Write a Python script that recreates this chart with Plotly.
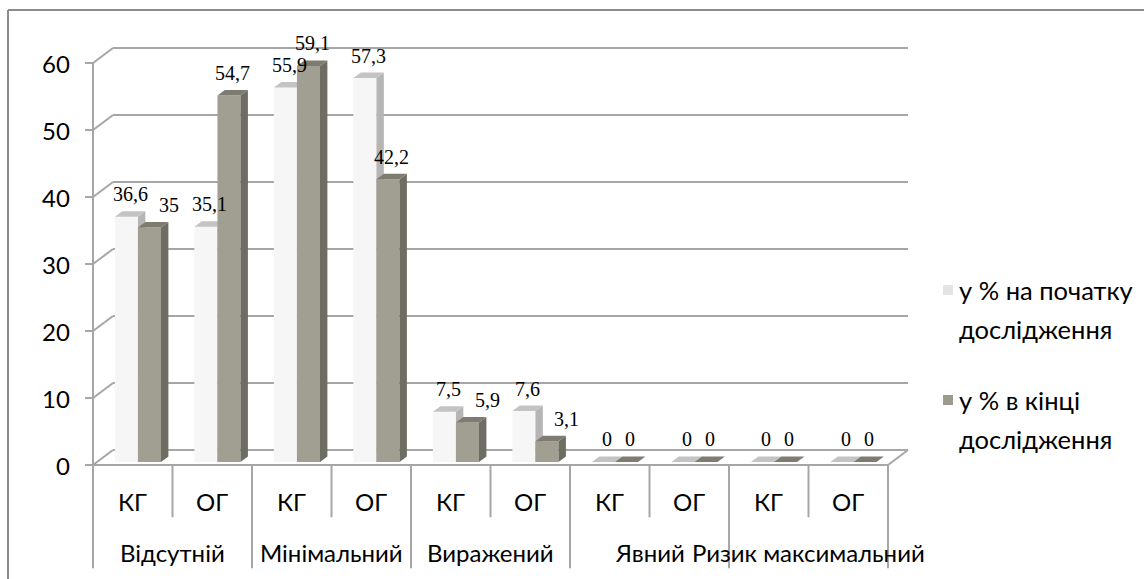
import plotly.graph_objects as go

# ---- data -------------------------------------------------------------
groups = ["Відсутній", "Мінімальний", "Виражений", "Явний", "Ризик максимальний"]
subgroups = ["КГ", "ОГ"]
start_pct = [36.6, 35.1, 55.9, 57.3, 7.5, 7.6, 0, 0, 0, 0]   # у % на початку дослідження
end_pct = [35, 54.7, 59.1, 42.2, 5.9, 3.1, 0, 0, 0, 0]       # у % в кінці дослідження
series_names = [["у % на початку", "дослідження"], ["у % в кінці", "дослідження"]]
y_ticks = [0, 10, 20, 30, 40, 50, 60]

# ---- geometry of the pseudo-3D box (data units) ------------------------
W, H = 1144, 579
X0_PX, SLOT_PX = 93, 79.5          # front-left corner of floor, slot width
Y0_PX, UNIT_PX = 465, 6.7          # floor front line, pixels per percent
DX, DY = 20 / SLOT_PX, 15 / UNIT_PX  # depth offset of back wall
N = len(start_pct)
F0, F1 = 0.2, 0.57                  # bar front / back depth fractions
BW = 0.29                           # bar width (slot units)
PAIR_START = 0.225

GRID = "#a6a6a6"
LIGHT_FRONT, LIGHT_SIDE, LIGHT_TOP = "#ffffff", "#b9b9b9", "#c9c9c9"
DARK_FRONT, DARK_SIDE, DARK_TOP = "#a3a194", "#6e6d63", "#7e7c71"

fig = go.Figure()


def poly(xs, ys, color, pattern=None, line=None):
    kw = {}
    if pattern:
        kw["fillpattern"] = pattern
    fig.add_trace(go.Scatter(
        x=xs + [xs[0]], y=ys + [ys[0]], mode="lines", fill="toself",
        fillcolor=color, line=line or dict(width=0, color=color),
        hoverinfo="skip", showlegend=False, **kw))


def seg(x0, y0, x1, y1, color=GRID, width=2):
    fig.add_shape(type="line", x0=x0, y0=y0, x1=x1, y1=y1, xref="x", yref="y",
                  line=dict(color=color, width=width), layer="below")


# back wall gridlines, side diagonals, y-axis ticks
for t in y_ticks:
    seg(DX, t + DY, N + DX, t + DY)
    seg(0, t, DX, t + DY)
    seg(-0.1, t, 0, t)
seg(0, 0, 0, y_ticks[-1])
# floor
seg(0, 0, N, 0)
seg(N, 0, N + DX, DY)

# category separators below the floor
for i in range(N + 1):
    bottom = -15.4 if i % 2 == 0 else -7.8
    seg(i, 0, i, bottom)

# bars
light_pat = dict(shape=".", fgcolor="#cdcdcd", bgcolor=LIGHT_FRONT, size=2, solidity=0.4)
light_side_pat = dict(shape=".", fgcolor="#a3a3a3", bgcolor=LIGHT_SIDE, size=2, solidity=0.4)
light_top_pat = dict(shape=".", fgcolor="#acacac", bgcolor=LIGHT_TOP, size=2, solidity=0.4)
dark_pat = dict(shape=".", fgcolor="#939184", bgcolor=DARK_FRONT, size=2, solidity=0.4)


def bar(x0, h, front, side, top, pf=None, ps=None, pt=None):
    a, b = F0 * DX, F0 * DY
    a2, b2 = F1 * DX, F1 * DY
    xl, xr = x0 + a, x0 + BW + a
    if h > 0:
        poly([xl, xr, xr, xl], [b, b, h + b, h + b], front, pf)
        poly([xr, x0 + BW + a2, x0 + BW + a2, xr], [b, b2, h + b2, h + b], side, ps)
    poly([xl, xr, x0 + BW + a2, x0 + a2], [h + b, h + b, h + b2, h + b2], top, pt)


label_font = dict(family="Liberation Serif", size=20, color="#000000")
for i in range(N):
    xs = i + PAIR_START
    v1, v2 = start_pct[i], end_pct[i]
    bar(xs, v1, LIGHT_FRONT, LIGHT_SIDE, LIGHT_TOP, light_pat, light_side_pat, light_top_pat)
    bar(xs + BW, v2, DARK_FRONT, DARK_SIDE, DARK_TOP, dark_pat)

    mid = (F0 + F1) / 2
    lx1 = xs + BW / 2 + mid * DX
    lx2 = xs + 1.5 * BW + mid * DX
    # push the second label aside when the two labels would collide
    if 0 < v1 - v2 < 10:
        lx2 += 0.2
    off = 17 / UNIT_PX
    for val, lx in ((v1, lx1), (v2, lx2)):
        txt = f"{val:g}".replace(".", ",")
        fig.add_annotation(x=lx, y=val + F1 * DY + off, text=txt, showarrow=False,
                           font=label_font, xanchor="center", yanchor="middle")

# axis tick labels
tick_font = dict(family="Lato", size=24, color="#000000")
for t in y_ticks:
    fig.add_annotation(x=-0.27, y=t, text=str(t), showarrow=False, font=tick_font,
                       xanchor="right", yanchor="middle")
for i in range(N):
    fig.add_annotation(x=i + 0.5, y=-5.5, text=subgroups[i % 2], showarrow=False,
                       font=tick_font, xanchor="center", yanchor="middle")
for g, name in enumerate(groups):
    fig.add_annotation(x=2 * g + 1, y=-13.0, text=name, showarrow=False,
                       font=tick_font, xanchor="center", yanchor="middle")

# legend
leg_x = 957 / W
leg_font = dict(family="Lato", size=25.5, color="#000000")
for k, (lines, col) in enumerate(((series_names[0], "#e4e4e4"),
                                  (series_names[1], "#9c9a8c"))):
    y_first = 290 + k * 110
    fig.add_shape(type="rect", xref="paper", yref="paper",
                  x0=943 / W, x1=953 / W, y0=1 - (y_first + 5) / H, y1=1 - (y_first - 5) / H,
                  fillcolor=col, line=dict(width=0))
    for j, line in enumerate(lines):
        fig.add_annotation(xref="paper", yref="paper", x=leg_x, y=1 - (y_first + 39 * j) / H,
                           text=line, showarrow=False, xanchor="left", yanchor="middle",
                           font=leg_font)

# outer frame
fig.add_shape(type="line", xref="paper", yref="paper", x0=8 / W, x1=1, y0=1 - 10 / H, y1=1 - 10 / H,
              line=dict(color="#8c8c8c", width=2))
fig.add_shape(type="line", xref="paper", yref="paper", x0=8 / W, x1=8 / W, y0=1 - 10 / H, y1=0,
              line=dict(color="#8c8c8c", width=2))

fig.update_layout(
    width=W, height=H, margin=dict(l=0, r=0, t=0, b=0),
    paper_bgcolor="white", plot_bgcolor="white", showlegend=False,
    xaxis=dict(range=[-X0_PX / SLOT_PX, (W - X0_PX) / SLOT_PX], visible=False, fixedrange=True),
    yaxis=dict(range=[-(H - Y0_PX) / UNIT_PX, Y0_PX / UNIT_PX], visible=False, fixedrange=True),
)

fig.write_html("out.html")
